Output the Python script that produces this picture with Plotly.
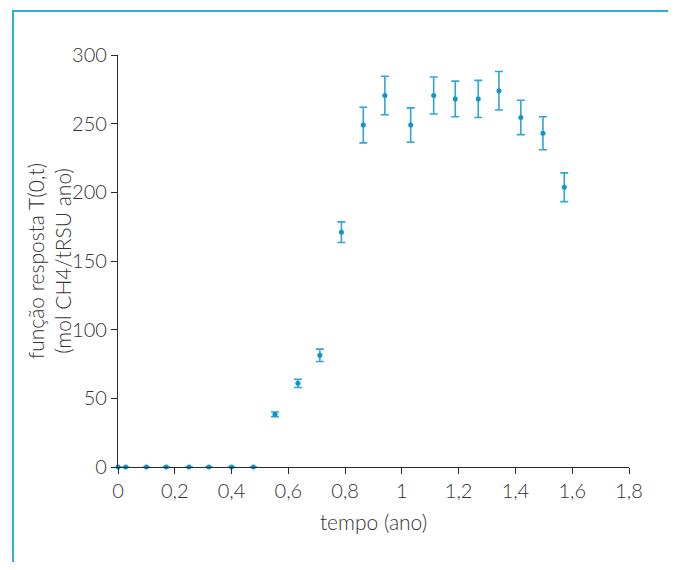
import plotly.graph_objects as go

tempo = [0, 0.027, 0.10, 0.17, 0.25, 0.32, 0.40, 0.477, 0.553, 0.634, 0.711, 0.787,
         0.864, 0.940, 1.031, 1.112, 1.188, 1.269, 1.342, 1.419, 1.497, 1.572]
resposta = [0, 0, 0, 0, 0, 0, 0, 0, 38.4, 60.9, 81.3, 171, 249, 270.5, 249, 270.5,
            268, 268, 274, 254.5, 243, 203.7]
erro = [None] * 8 + [1.7, 3, 4.5, 7.5, 13, 14, 12.5, 13.5, 13, 13.5, 14, 12.5, 12, 10.5]

x_ticks = [0, 0.2, 0.4, 0.6, 0.8, 1.0, 1.2, 1.4, 1.6, 1.8]
x_labels = ["0", "0,2", "0,4", "0,6", "0,8", "1", "1,2", "1,4", "1,6", "1,8"]
y_ticks = [0, 50, 100, 150, 200, 250, 300]
y_title = "função resposta T(0,t)<br>(mol CH4/tRSU ano)"

FONT = "Lato"
TXT = "#333333"
BLUE = "#0a96cc"
BORDER = "#2aaee0"

# page is offset by the 8px body margin
OFF = 8
L, R, T, B = 118 - OFF, 629 - OFF, 55 - OFF, 467 - OFF
W, H = 676 - 2 * OFF, 570 - 2 * OFF
PW, PH = R - L, B - T

fig = go.Figure()
fig.add_trace(go.Scatter(
    x=tempo, y=resposta, mode="markers",
    marker=dict(color=BLUE, size=5),
    error_y=dict(type="data", array=erro, visible=True, color="#2fa6d8",
                 thickness=1.6, width=4),
    cliponaxis=False, showlegend=False,
))

axis_common = dict(showline=True, linecolor="#2b2b2b", linewidth=1.3,
                   ticks="outside", ticklen=6, tickwidth=1.3, tickcolor="#2b2b2b",
                   showgrid=False, zeroline=False,
                   tickfont=dict(family=FONT, size=20, color=TXT, weight=300))

fig.update_layout(
    width=W, height=H,
    margin=dict(l=L, r=W - R, t=T, b=H - B),
    paper_bgcolor="white", plot_bgcolor="white",
    separators=",.",
    xaxis=dict(range=[0, 1.8], tickvals=x_ticks, ticktext=x_labels,
               title=dict(text="tempo (ano)", standoff=14,
                          font=dict(family=FONT, size=21, color=TXT, weight=300)),
               **axis_common),
    yaxis=dict(range=[0, 300], tickvals=y_ticks, **axis_common),
    annotations=[dict(text=y_title, textangle=-90, showarrow=False,
                      xref="paper", yref="paper",
                      x=(49 - OFF - L) / PW, y=(B - (261 - OFF)) / PH,
                      xanchor="center", yanchor="middle",
                      font=dict(family=FONT, size=21, color=TXT, weight=300))],
    shapes=[dict(type="rect", xref="paper", yref="paper",
                 x0=(13 - OFF - L) / PW, x1=(669 - OFF - L) / PW,
                 y0=(B - (600 - OFF)) / PH, y1=(B - (11 - OFF)) / PH,
                 line=dict(color=BORDER, width=2), layer="below")],
)

fig.write_html("out.html")
